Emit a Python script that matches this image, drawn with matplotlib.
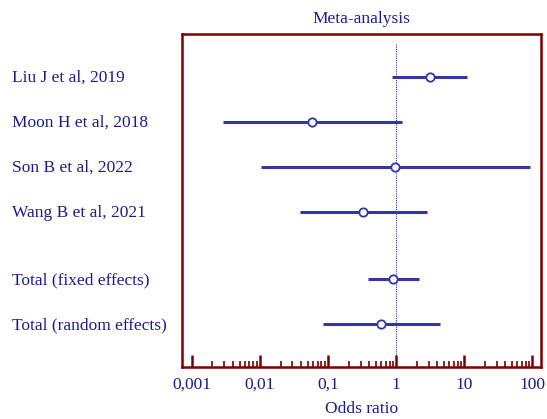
import matplotlib
matplotlib.use("Agg")
import matplotlib.pyplot as plt
import matplotlib.transforms as mtransforms
from matplotlib.ticker import FixedLocator, NullFormatter

studies = ["Liu J et al, 2019", "Moon H et al, 2018", "Son B et al, 2022",
           "Wang B et al, 2021", "Total (fixed effects)", "Total (random effects)"]
odds_ratio = [3.16, 0.058, 0.98, 0.33, 0.90, 0.60]
ci_low = [0.88, 0.0029, 0.0103, 0.039, 0.39, 0.085]
ci_high = [11.0, 1.22, 94.0, 2.85, 2.17, 4.4]
row_pos = [0, 1, 2, 3, 4.5, 5.5]
tick_values = [0.001, 0.01, 0.1, 1, 10, 100]
tick_labels = ["0,001", "0,01", "0,1", "1", "10", "100"]

plt.rcParams['font.family'] = ['Liberation Serif', 'DejaVu Serif']
txt_color = '#1c1c8c'
line_color = '#3535a5'
frame_color = '#7a0000'

fig = plt.figure(figsize=(5.47, 4.19), dpi=100)
ax = fig.add_axes([182/547, 1 - 367/419, (541-182)/547, (367-34)/419])

ax.set_xscale('log')
ax.set_xlim(10**-3.147, 10**2.13)
ax.set_ylim(6.45, -0.95)

ax.plot([1, 1], [-0.72, 6.45], color=line_color, lw=0.8, ls=(0, (1, 1)), zorder=1)

for y, o, lo, hi in zip(row_pos, odds_ratio, ci_low, ci_high):
    ax.plot([lo, hi], [y, y], color=line_color, lw=2.2, solid_capstyle='butt', zorder=2)
    ax.plot([o], [y], marker='o', ms=6, mfc='white', mec=line_color, mew=1.3, zorder=3)

for sp in ax.spines.values():
    sp.set_color(frame_color)
    sp.set_linewidth(1.8)

minor_vals = [m * d for d in tick_values[:-1] for m in range(2, 10)]
ax.xaxis.set_major_locator(FixedLocator(tick_values))
ax.set_xticklabels(tick_labels)
ax.xaxis.set_minor_locator(FixedLocator(minor_vals))
ax.xaxis.set_minor_formatter(NullFormatter())
ax.tick_params(axis='x', which='major', direction='in', length=9, width=1.8,
               color=frame_color, labelcolor=txt_color, labelsize=12.5, pad=7)
ax.tick_params(axis='x', which='minor', direction='in', length=4, width=1.2,
               color=frame_color)
ax.set_yticks([])

ax.set_xlabel("Odds ratio", color=txt_color, fontsize=12.5, labelpad=6)
ax.set_title("Meta-analysis", color=txt_color, fontsize=12.5, pad=8)

trans = mtransforms.blended_transform_factory(fig.transFigure, ax.transData)
for y, name in zip(row_pos, studies):
    ax.text(12/547, y + 0.03, name, transform=trans, color=txt_color, fontsize=12.5,
            va='center', ha='left', clip_on=False)

fig.savefig("out.png", dpi=100)
